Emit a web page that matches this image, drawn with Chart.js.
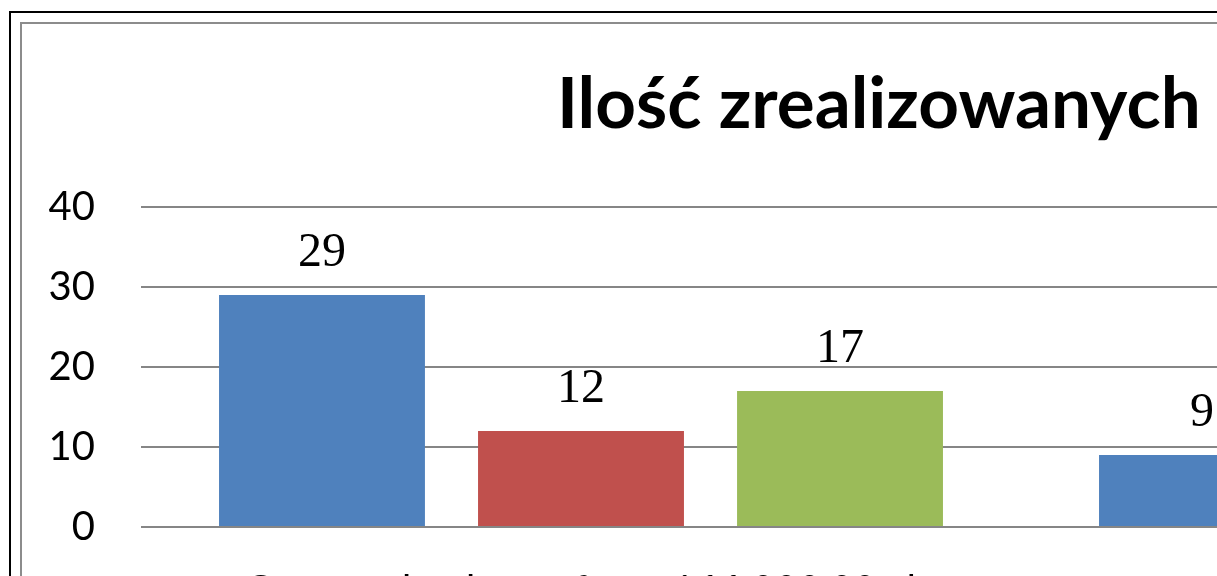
<!DOCTYPE html>
<html lang="pl">
<head>
<meta charset="utf-8">
<script src="https://cdn.jsdelivr.net/npm/chart.js@4.4.0/dist/chart.umd.min.js"></script>
<style>
  html, body { margin: 0; padding: 0; background: #fff; }
  body { width: 1217px; height: 576px; overflow: hidden; position: relative; }
  #frame { position: absolute; left: 9px; top: 11px; width: 2200px; height: 800px; border: 2px solid #000; }
  #inner { position: absolute; left: 20px; top: 22px; width: 2200px; height: 800px; border: 2px solid #8c8c8c; }
  #chart { position: absolute; left: 22px; top: 24px; }
</style>
</head>
<body>
<div id="frame"></div>
<div id="inner"></div>
<canvas id="chart"></canvas>
<script>
// values (second group's red/green bars are outside the crop)
const categories = ['Otwarty konkurs ofert - 166 000,00 zł', 'Tryb pozakonkursowy'];
const series1 = [29, 9];
const series2 = [12, null];
const series3 = [17, null];
const seriesNames = ['Seria 1', 'Seria 2', 'Seria 3'];
const seriesColors = ['#4F81BD', '#C0504D', '#9BBB59'];
const yTicks = [0, 10, 20, 30, 40];
const chartTitle = 'Ilość zrealizowanych zadań';

document.addEventListener('DOMContentLoaded', () => {
    const titleSize = 71;
    const titleFont = { family: 'Lato', weight: 'bold', size: titleSize, lineHeight: 1 };
    const plotLeft = 119, plotRight = 1879;

    // the title is centred on the whole canvas, so pick the canvas width
    // that puts its first letter where it is in the picture
    const m = document.createElement('canvas').getContext('2d');
    m.font = 'bold ' + titleSize + 'px Lato';
    const titleW = m.measureText(chartTitle).width;
    let W = Math.round(2 * (557 - 22) + titleW);
    if (W < plotRight) W = plotRight;
    const H = 603;

    const canvas = document.getElementById('chart');
    canvas.width = W;
    canvas.height = H;
    canvas.style.width = W + 'px';
    canvas.style.height = H + 'px';

    // numbers above the bars
    const barLabels = {
        id: 'barLabels',
        afterDatasetsDraw(chart) {
            const ctx = chart.ctx;
            ctx.save();
            ctx.font = '48px "Liberation Serif"';
            ctx.fillStyle = '#000';
            ctx.textAlign = 'center';
            ctx.textBaseline = 'alphabetic';
            chart.data.datasets.forEach((ds, i) => {
                chart.getDatasetMeta(i).data.forEach((bar, j) => {
                    const v = ds.data[j];
                    if (v == null) return;
                    ctx.fillText(String(v), bar.x, bar.y - 29);
                });
            });
            ctx.restore();
        }
    };

    new Chart(canvas, {
        type: 'bar',
        data: {
            labels: categories,
            datasets: [series1, series2, series3].map((d, i) => ({
                label: seriesNames[i],
                data: d,
                backgroundColor: seriesColors[i],
                borderWidth: 0,
                categoryPercentage: 0.883,
                barPercentage: 0.795
            }))
        },
        options: {
            responsive: false,
            animation: false,
            layout: { padding: 0 },
            plugins: {
                legend: { display: false },
                tooltip: { enabled: false },
                title: {
                    display: true,
                    text: chartTitle,
                    color: '#000',
                    font: titleFont,
                    padding: { top: 46, bottom: 66 }
                }
            },
            scales: {
                x: {
                    grid: { display: false },
                    border: { display: false },
                    ticks: { color: '#000', font: { family: 'Lato', size: 40 }, padding: 32, maxRotation: 0, autoSkip: false },
                    afterFit: s => { s.height = 100; }
                },
                y: {
                    min: 0,
                    max: 40,
                    grid: { color: '#868686', lineWidth: 2, drawTicks: false },
                    border: { display: false },
                    ticks: { color: '#000', font: { family: 'Lato', size: 40 }, padding: 46 },
                    afterBuildTicks: s => { s.ticks = yTicks.map(v => ({ value: v })); },
                    afterFit: s => { s.width = plotLeft; }
                },
                // empty strip on the right (where the legend sits, off the crop)
                side: {
                    type: 'linear',
                    position: 'right',
                    grid: { display: false },
                    border: { display: false },
                    ticks: { display: false },
                    afterFit: s => { s.width = W - plotRight; }
                }
            }
        },
        plugins: [barLabels]
    });
});
</script>
</body>
</html>
